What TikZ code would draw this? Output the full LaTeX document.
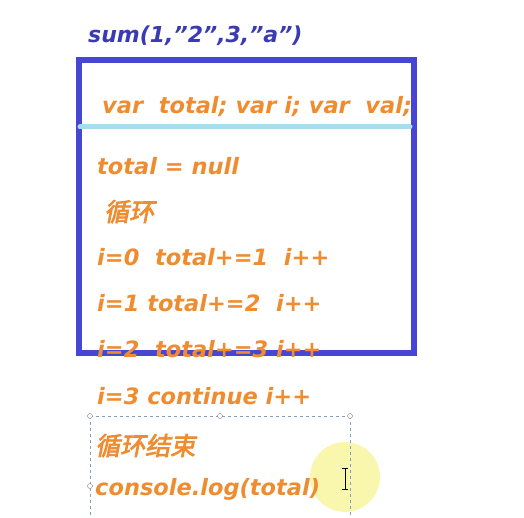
\documentclass[tikz,border=0pt]{standalone}
\usepackage{fontspec}
\setmainfont{DejaVu Sans}
\newfontfamily\cjk[FakeSlant=0.2,FakeBold=3]{Noto Sans CJK SC}
\usetikzlibrary{positioning}
\definecolor{codeorange}{RGB}{240,140,48}
\definecolor{frameblue}{RGB}{70,70,210}
\definecolor{titleblue}{RGB}{58,58,180}
\definecolor{rulecyan}{RGB}{168,220,238}
\definecolor{selgray}{RGB}{130,160,190}
\definecolor{spot}{RGB}{248,245,160}
\tikzset{code/.style={anchor=base west,inner sep=0pt,text=codeorange,font=\fontsize{22.5}{26}\selectfont\bfseries\itshape},
cjkcode/.style={code,font=\fontsize{25}{28}\selectfont\cjk},
handle/.style={circle,draw=gray,fill=white,inner sep=0pt,minimum size=5pt}}
\newcommand{\dq}{\symbol{34}}
\begin{document}
\begin{tikzpicture}[x=1pt,y=-1pt]
\path[use as bounding box] (0,0) rectangle (524,518);
\node[anchor=base west,inner sep=0pt,text=titleblue,font=\fontsize{22}{26}\selectfont\bfseries\itshape] (title) at (88,43) {sum(1,\dq2\dq,3,\dq a\dq)};
\draw[frameblue,line width=6pt] (78.5,60) rectangle (413.5,352.5);
\draw[rulecyan,line width=5pt,line cap=round] (80,127) -- (410,127);
\node[code] (decl) at (102,114) {var\ \ total; var i; var\ \ val;};
\node[code] (init) at (97,175) {total = null};
\node[cjkcode] (loop) at (104,221) {循环};
\foreach \name/\yy/\txt in {s0/266/{i=0\ \ total+=1\ \ i++},s1/311/{i=1 total+=2\ \ i++},s2/357/{i=2\ \ total+=3 i++},s3/404/{i=3 continue i++}}{
\node[code] (\name) at (97,\yy) {\txt};
}
% selection box
\fill[spot,opacity=0.85] (345,477) circle (35);
\draw[selgray,dashed,line width=0.8pt] (90,416) -- (350,416) (90,416) -- (90,518) (350,416) -- (350,518);
\foreach \name/\xx/\yy in {h1/90/416,h2/220/416,h3/350/416,h4/90/486}{
\node[handle] (\name) at (\xx,\yy) {};
}
\node[cjkcode] (endloop) at (95,455) {循环结束};
\node[code] (log) at (95,495) {console.log(total)};
% cursor
\draw[black,line width=0.6pt] (342,468) -- (348,468) (345,468) -- (345,489) (342,489) -- (348,489);
\end{tikzpicture}
\end{document}
